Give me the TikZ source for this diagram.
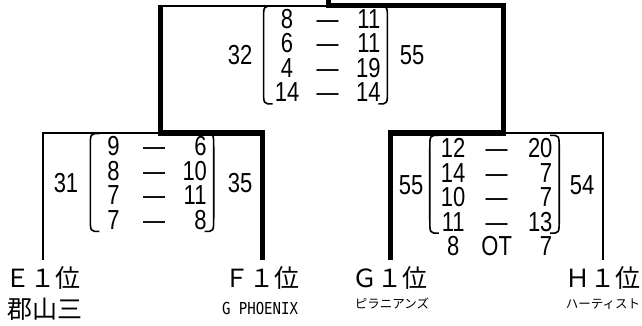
\documentclass[tikz,border=0pt]{standalone}
\usepackage{fontspec}
\setmainfont{Liberation Sans}
\newfontfamily\scorefont[FakeStretch=0.8]{Liberation Sans}
\newfontfamily\jpfont{Noto Sans CJK JP}
\newfontfamily\clubmono[FakeStretch=0.85]{DejaVu Sans Mono}
\usetikzlibrary{matrix}

\newcommand{\scoreparens}[2]{%
	\coordinate (#1nw) at (#1.west |- #1-1-1.north);
	\coordinate (#1sw) at (#1.west |- #1-#2-1.south);
	\coordinate (#1ne) at (#1.east |- #1-1-1.north);
	\coordinate (#1se) at (#1.east |- #1-#2-1.south);
	\draw [paren] ([shift={(-2,-3)}]#1nw) .. controls ([shift={(-11,-3)}]#1nw) .. ([shift={(-11,11)}]#1nw)
		-- ([shift={(-11,-12)}]#1sw) .. controls ([shift={(-11,2)}]#1sw) .. ([shift={(-2,2)}]#1sw);
	\draw [paren] ([shift={(-2,-3)}]#1ne) .. controls ([shift={(7,-3)}]#1ne) .. ([shift={(7,11)}]#1ne)
		-- ([shift={(7,-12)}]#1se) .. controls ([shift={(7,2)}]#1se) .. ([shift={(-2,2)}]#1se);
}

\begin{document}
\begin{tikzpicture}[x = 1pt, y = -1pt,
	win/.style = {line width = 5pt},
	lose/.style = {line width = 2.2pt},
	paren/.style = {line width = 1.6pt},
	score/.style = {font = \scorefont\fontsize{27.5}{27.5}\selectfont, inner sep = 0pt},
	team/.style = {font = \jpfont\fontsize{25}{25}\selectfont, inner sep = 0pt, outer sep = 6pt, anchor = base},
	club/.style = {font = \jpfont\fontsize{12.5}{12.5}\selectfont, inner sep = 0pt, anchor = base},
	games/.style = {matrix of nodes, inner sep = 0pt, row sep = 5.5pt, column sep = 16pt,
		nodes = {score, text height = 19pt, text depth = 0pt},
		column 1/.style = {nodes = {minimum width = 24pt}},
		column 2/.style = {nodes = {minimum width = 25pt}},
		column 3/.style = {nodes = {text width = 24pt, align = right}}}]
	\useasboundingbox (0,0) rectangle (642,326);

	% teams
	\node [team] (E) at (43,287) {Ｅ１位};
	\node [team] (F) at (262,287) {Ｆ１位};
	\node [team] (G) at (390,287) {Ｇ１位};
	\node [team] (H) at (603,287) {Ｈ１位};
	\node [team] (Ename) at (45,318) {郡山三};
	\node [anchor = base, inner sep = 0pt, font = \clubmono\fontsize{16.5}{16.5}\selectfont] (Fname) at (260,314) {G PHOENIX};
	\node [club] (Gname) at (392,308) {ピラニアンズ};
	\node [club] (Hname) at (603,308) {ハーティスト};

	% bracket
	\coordinate (efjoin) at (160,133);
	\coordinate (ghjoin) at (503,133);
	\coordinate (finjoin) at (328,6);
	\coordinate (eftop) at (160,6);
	\coordinate (champ) at (328,-4);
	\draw [lose] (E.north) |- (efjoin);
	\draw [lose] (H.north) |- (ghjoin);
	\draw [lose] (eftop) -- (finjoin);
	\draw [win] (F.north) |- (efjoin) -- ([shift={(0,-1.1)}]eftop);
	\draw [win] (G.north) |- (ghjoin) |- (finjoin) -- (champ);

	% scores
	\matrix (fin) [games] at (327.5,55.5) {8 & — & 11\\ 6 & — & 11\\ 4 & — & 19\\ 14 & — & 14\\};
	\matrix (ef) [games] at (154,183) {9 & — & 6\\ 8 & — & 10\\ 7 & — & 11\\ 7 & — & 8\\};
	\matrix (gh) [games] at (496.5,197) {12 & — & 20\\ 14 & — & 7\\ 10 & — & 7\\ 11 & — & 13\\ 8 & OT & 7\\};
	\scoreparens{fin}{4}
	\scoreparens{ef}{4}
	\scoreparens{gh}{4}
	\node [score] (finl) at (240,55) {32};
	\node [score] (finr) at (412,55) {55};
	\node [score] (efl) at (66,183) {31};
	\node [score] (efr) at (240,183) {35};
	\node [score] (ghl) at (411,185) {55};
	\node [score] (ghr) at (582,185) {54};
\end{tikzpicture}
\end{document}
